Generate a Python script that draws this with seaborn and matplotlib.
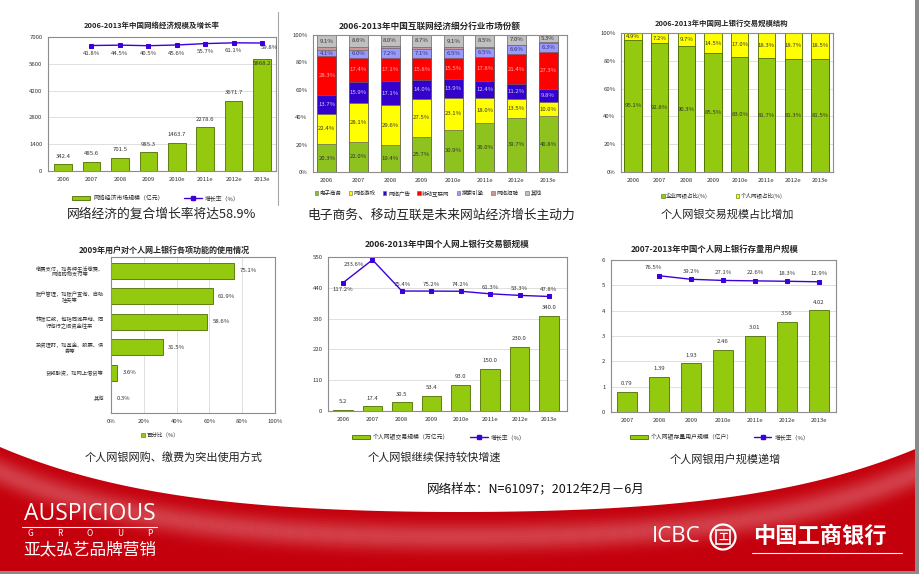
import numpy as np
import matplotlib.pyplot as plt
from matplotlib.patches import Patch, Circle, Rectangle
from matplotlib.lines import Line2D
import seaborn as sns

# ---- data ----
years = ["2006", "2007", "2008", "2009", "2010e", "2011e", "2012e", "2013e"]

econ_scale = [342.4, 485.6, 701.5, 985.3, 1463.7, 2278.6, 3671.7, 5868.2]
econ_growth = [41.8, 44.5, 40.5, 45.6, 55.7, 61.1, 59.8]  # 2007 - 2013e

seg_names = ["电子商务", "网络游戏", "网络广告", "移动互联网", "搜索引擎", "网络招聘", "其他"]
seg_ecommerce = [20.3, 22.0, 19.4, 25.7, 30.9, 36.0, 39.7, 40.8]
seg_game = [22.4, 28.1, 29.6, 27.5, 23.1, 18.0, 13.5, 10.0]
seg_ads = [13.7, 15.9, 17.1, 14.0, 13.9, 12.4, 11.2, 9.8]
seg_mobile = [28.3, 17.4, 17.1, 15.8, 15.5, 17.8, 21.4, 27.3]
seg_search = [4.1, 6.0, 7.2, 7.1, 6.5, 6.5, 6.6, 6.3]
seg_recruit = [2.1, 2.0, 1.6, 1.2, 1.0, 0.8, 0.6, 0.5]
seg_other = [9.1, 8.6, 8.0, 8.7, 9.1, 8.5, 7.0, 5.3]

bank_names = ["企业网银占比(%)", "个人网银占比(%)"]
bank_corp = [95.1, 92.8, 90.3, 85.5, 83.0, 81.7, 81.3, 81.5]
bank_personal = [4.9, 7.2, 9.7, 14.5, 17.0, 18.3, 18.7, 18.5]

func_labels = ["缴费支付，如各种生活缴费、\n网络购物支付等",
               "账户管理，如账户查询、自助\n挂失等",
               "转账汇款，包括同城异地、同\n行他行之间资金往来",
               "投资理财，如基金、股票、债\n券等",
               "贷款融资，如网上借贷等",
               "其他"]
func_share = [75.1, 61.9, 58.6, 31.5, 3.6, 0.3]

trade_scale = [5.2, 17.4, 30.5, 53.4, 93.0, 150.0, 230.0, 340.0]
trade_growth = [117.2, 233.6, 75.4, 75.2, 74.2, 61.3, 53.3, 47.8]

user_years = ["2007", "2008", "2009", "2010e", "2011e", "2012e", "2013e"]
user_scale = [0.79, 1.39, 1.93, 2.46, 3.01, 3.56, 4.02]
user_growth = [76.5, 39.2, 27.1, 22.6, 18.3, 12.9]  # 2008 - 2013e

GREEN = "#93C90E"
EDGE = "#4E6E00"
PURPLE = "#3D00DA"

sns.set_theme(style="white")
plt.rcParams["font.family"] = ["Noto Sans CJK SC", "DejaVu Sans"]
plt.rcParams["axes.unicode_minus"] = False

W, H = 920, 574
fig = plt.figure(figsize=(9.2, 5.74), dpi=100)
fig.patch.set_facecolor("white")


def rect(x0, y0, x1, y1):
    return [x0 / W, 1 - y1 / H, (x1 - x0) / W, (y1 - y0) / H]


def ftext(x, y, s, **kw):
    kw.setdefault("ha", "center")
    kw.setdefault("va", "center")
    fig.text(x / W, 1 - y / H, s, **kw)


def style_box(ax, grid="y"):
    for s in ax.spines.values():
        s.set_visible(True)
        s.set_color("#8C8C8C")
        s.set_linewidth(0.8)
    ax.tick_params(length=0, labelsize=4.3, colors="#333333", pad=4)
    ax.set_xlabel("")
    ax.set_ylabel("")
    if grid:
        getattr(ax, grid + "axis").grid(True, color="#D9D9D9", lw=0.6)
    ax.set_axisbelow(True)


def hide_twin(ax2):
    ax2.set_yticks([])
    ax2.set_ylabel("")
    for s in ax2.spines.values():
        s.set_visible(False)


# ---- background (red footer swoosh) ----
bg = fig.add_axes([0, 0, 1, 1], zorder=-5)
bg.set_xlim(0, W)
bg.set_ylim(H, 0)
bg.axis("off")
xs = np.linspace(0, W, 400)
t = (xs - 460) / 460
curve = 512 - 32 * t ** 2 - 33 * t ** 4
bg.fill_between(xs, curve, H, color="#C4000C", lw=0)
for d in range(0, 70, 2):
    a = 0.25 * np.exp(-((d - 24) / 14.0) ** 2)
    bg.fill_between(xs, curve + d, curve + d + 2, color="white", alpha=a, lw=0)
bg.add_patch(Rectangle((915, 0), 5, H, color="#8A8A8A", lw=0))
bg.add_patch(Rectangle((0, 571), W, 3, color="#8A8A8A", lw=0))
bg.plot([278, 278], [12, 205], color="#A6A6A6", lw=0.8)

# ---- chart 1: 网络经济规模及增长率 ----
ax = fig.add_axes(rect(48, 37, 276, 171))
sns.barplot(x=years, y=econ_scale, color=GREEN, saturation=1, width=0.62,
            edgecolor=EDGE, linewidth=0.6, ax=ax)
ax.set_ylim(0, 7000)
ax.set_yticks(np.arange(0, 7001, 1400))
ax.set_xlim(-0.53, 7.49)
style_box(ax)
for i, v in enumerate(econ_scale):
    if i == len(econ_scale) - 1:
        off, va = (0, -1.5), "top"
    else:
        off, va = (0, 4), "bottom"
    ax.annotate(f"{v}", (i, v), xytext=off, textcoords="offset points",
                ha="center", va=va, fontsize=4.3, color="#333333")
ax2 = ax.twinx()
gx = np.arange(1, len(years))
sns.lineplot(x=gx, y=econ_growth, color=PURPLE, marker="s", markersize=3.2,
             markeredgecolor=PURPLE, lw=1, legend=False, ax=ax2)
ax2.set_ylim(-860, 103)
ax2.set_xlim(-0.53, 7.49)
hide_twin(ax2)
for x, v in zip(gx, econ_growth):
    if x == gx[-1]:
        off = (5, -1.5)
    else:
        off = (0, -4)
    ax2.annotate(f"{v}%", (x, v), xytext=off, textcoords="offset points",
                 ha="center", va="top", fontsize=4.3, color="#333333")
ftext(152, 25, "2006-2013年中国网络经济规模及增长率", fontsize=5.4, fontweight="bold")
fig.legend(handles=[Patch(facecolor=GREEN, edgecolor=EDGE, lw=0.6),
                    Line2D([0], [0], color=PURPLE, marker="s", markersize=3, lw=1)],
           labels=["网络经济市场规模（亿元）", "增长率（%）"], loc="center",
           bbox_to_anchor=(156 / W, 1 - 198 / H), ncol=2, frameon=False, fontsize=4.2,
           handlelength=3, handleheight=0.8, columnspacing=3.5, handletextpad=0.6)
ftext(162, 214, "网络经济的复合增长率将达58.9%", fontsize=9.2, color="#222222")

# ---- chart 2: 细分行业市场份额 ----
ax = fig.add_axes(rect(313, 35, 567, 172))
seg_series = [seg_ecommerce, seg_game, seg_ads, seg_mobile, seg_search, seg_recruit, seg_other]
seg_colors = ["#8DC21F", "#FFFF00", "#3300CC", "#FF0000", "#9999FF", "#CC9999", "#C0C0C0"]
seg_text = ["#333333", "#333333", "#D0D0FF", "#FFB0B0", "#333366", "#333333", "#333333"]
cum = np.cumsum(np.array(seg_series), axis=0)
for k in range(len(seg_series) - 1, -1, -1):
    sns.barplot(x=years, y=cum[k], color=seg_colors[k], saturation=1, width=0.6,
                edgecolor="#666666", linewidth=0.5, ax=ax)
ax.set_ylim(0, 100)
ax.set_yticks(np.arange(0, 101, 20))
ax.set_yticklabels([f"{v}%" for v in range(0, 101, 20)])
ax.set_xlim(-0.44, 7.6)
style_box(ax, grid=None)
for k, ser in enumerate(seg_series):
    if k == 5:
        continue
    for i, v in enumerate(ser):
        ax.text(i, cum[k][i] - v / 2, f"{v:.1f}%", ha="center", va="center",
                fontsize=4.3, color=seg_text[k])
ftext(430, 26, "2006-2013年中国互联网经济细分行业市场份额", fontsize=6.2, fontweight="bold")
fig.legend(handles=[Patch(facecolor=c, edgecolor="#666666", lw=0.4) for c in seg_colors],
           labels=seg_names, loc="center", bbox_to_anchor=(428 / W, 1 - 193 / H),
           ncol=7, frameon=False, fontsize=4.0, handlelength=0.6, handleheight=0.6,
           columnspacing=1.3, handletextpad=0.3)
ftext(441, 215, "电子商务、移动互联是未来网站经济增长主动力", fontsize=9.2, color="#222222")

# ---- chart 3: 网上银行交易规模结构 ----
ax = fig.add_axes(rect(621, 33, 833, 172))
sns.barplot(x=years, y=np.add(bank_corp, bank_personal), color="#FFFF00", saturation=1,
            width=0.65, edgecolor=EDGE, linewidth=0.6, ax=ax)
sns.barplot(x=years, y=bank_corp, color=GREEN, saturation=1, width=0.65,
            edgecolor=EDGE, linewidth=0.6, ax=ax)
ax.set_ylim(0, 100)
ax.set_yticks(np.arange(0, 101, 20))
ax.set_yticklabels([f"{v}%" for v in range(0, 101, 20)])
ax.set_xlim(-0.45, 7.49)
style_box(ax)
for i, (c, p) in enumerate(zip(bank_corp, bank_personal)):
    ax.text(i, c / 2, f"{c}%", ha="center", va="center", fontsize=4.3, color="#333333")
    ax.text(i, c + p / 2, f"{p}%", ha="center", va="center", fontsize=4.3, color="#333333")
ftext(722, 23, "2006-2013年中国网上银行交易规模结构", fontsize=5.3, fontweight="bold")
fig.legend(handles=[Patch(facecolor=GREEN, edgecolor=EDGE, lw=0.4),
                    Patch(facecolor="#FFFF00", edgecolor=EDGE, lw=0.4)],
           labels=bank_names, loc="center", bbox_to_anchor=(722 / W, 1 - 196 / H),
           ncol=2, frameon=False, fontsize=4.0, handlelength=0.6, handleheight=0.6,
           columnspacing=5, handletextpad=0.3)
ftext(727, 214, "个人网银交易规模占比增加", fontsize=8, color="#222222")

# ---- chart 4: 个人网银功能使用 ----
ax = fig.add_axes(rect(111, 257, 275, 413))
sns.barplot(x=func_share, y=func_labels, orient="h", color=GREEN, saturation=1,
            width=0.63, edgecolor=EDGE, linewidth=0.6, ax=ax)
ax.set_xlim(0, 100)
ax.set_xticks(np.arange(0, 101, 20))
ax.set_xticklabels([f"{v}%" for v in range(0, 101, 20)])
ax.set_ylim(5.59, -0.55)
style_box(ax, grid="x")
ax.tick_params(axis="y", labelsize=3.8, pad=5)
for lab in ax.get_yticklabels():
    lab.set_multialignment("center")
for i, v in enumerate(func_share):
    ax.annotate(f"{v}%", (v, i), xytext=(4, 0), textcoords="offset points",
                ha="left", va="center", fontsize=4.3, color="#333333")
ftext(164, 250, "2009年用户对个人网上银行各项功能的使用情况", fontsize=5.8, fontweight="bold")
fig.legend(handles=[Patch(facecolor=GREEN, edgecolor=EDGE, lw=0.4)], labels=["百分比（%）"],
           loc="center", bbox_to_anchor=(160 / W, 1 - 435 / H), frameon=False, fontsize=4.0,
           handlelength=0.6, handleheight=0.6, handletextpad=0.3)
ftext(174, 457, "个人网银网购、缴费为突出使用方式", fontsize=8, color="#222222")

# ---- chart 5: 个人网上银行交易额规模 ----
ax = fig.add_axes(rect(328, 257, 567, 411))
sns.barplot(x=years, y=trade_scale, color=GREEN, saturation=1, width=0.66,
            edgecolor=EDGE, linewidth=0.6, ax=ax)
ax.set_ylim(0, 550)
ax.set_yticks(np.arange(0, 551, 110))
ax.set_xlim(-0.51, 7.61)
style_box(ax)
for i, v in enumerate(trade_scale):
    ax.annotate(f"{v:.1f}", (i, v), xytext=(0, 4), textcoords="offset points",
                ha="center", va="bottom", fontsize=4.3, color="#333333")
ax2 = ax.twinx()
tx = np.arange(len(years))
sns.lineplot(x=tx, y=trade_growth, color=PURPLE, marker="s", markersize=3.2,
             markeredgecolor=PURPLE, lw=1, legend=False, ax=ax2)
ax2.set_ylim(-533, 248)
ax2.set_xlim(-0.51, 7.61)
hide_twin(ax2)
for x, v in zip(tx, trade_growth):
    if x == 0:
        off, va = (0, -3), "top"
    elif x == 1:
        off, va = (-13, -3), "center"
    else:
        off, va = (0, 3), "bottom"
    ax2.annotate(f"{v}%", (x, v), xytext=off, textcoords="offset points",
                 ha="center", va=va, fontsize=4.3, color="#333333")
ftext(447, 244, "2006-2013年中国个人网上银行交易额规模", fontsize=6.2, fontweight="bold")
fig.legend(handles=[Patch(facecolor=GREEN, edgecolor=EDGE, lw=0.6),
                    Line2D([0], [0], color=PURPLE, marker="s", markersize=3, lw=1)],
           labels=["个人网银交易规模（万亿元）", "增长率（%）"], loc="center",
           bbox_to_anchor=(439 / W, 1 - 437 / H), ncol=2, frameon=False, fontsize=4.2,
           handlelength=3, handleheight=0.8, columnspacing=3.5, handletextpad=0.6)
ftext(434, 458, "个人网银继续保持较快增速", fontsize=8, color="#222222")

# ---- chart 6: 个人网上银行存量用户规模 ----
ax = fig.add_axes(rect(611, 260, 836, 412))
sns.barplot(x=user_years, y=user_scale, color=GREEN, saturation=1, width=0.62,
            edgecolor=EDGE, linewidth=0.6, ax=ax)
ax.set_ylim(0, 6)
ax.set_yticks(np.arange(0, 7, 1))
ax.set_xlim(-0.5, 6.53)
style_box(ax)
for i, v in enumerate(user_scale):
    ax.annotate(f"{v:.2f}", (i, v), xytext=(0, 4), textcoords="offset points",
                ha="center", va="bottom", fontsize=4.3, color="#333333")
ax2 = ax.twinx()
ux = np.arange(1, len(user_years))
sns.lineplot(x=ux, y=user_growth, color=PURPLE, marker="s", markersize=3.2,
             markeredgecolor=PURPLE, lw=1, legend=False, ax=ax2)
ax2.set_ylim(-1350, 241)
ax2.set_xlim(-0.5, 6.53)
hide_twin(ax2)
for x, v in zip(ux, user_growth):
    dx = -4 if x == ux[0] else 0
    ax2.annotate(f"{v}%", (x, v), xytext=(dx, 4), textcoords="offset points",
                 ha="center", va="bottom", fontsize=4.3, color="#333333")
ftext(715, 249, "2007-2013年中国个人网上银行存量用户规模", fontsize=6.0, fontweight="bold")
fig.legend(handles=[Patch(facecolor=GREEN, edgecolor=EDGE, lw=0.6),
                    Line2D([0], [0], color=PURPLE, marker="s", markersize=3, lw=1)],
           labels=["个人网银存量用户规模（亿户）", "增长率（%）"], loc="center",
           bbox_to_anchor=(720 / W, 1 - 437 / H), ncol=2, frameon=False, fontsize=4.2,
           handlelength=3, handleheight=0.8, columnspacing=3.5, handletextpad=0.6)
ftext(725, 459, "个人网银用户规模递增", fontsize=8, color="#222222")

# ---- footer ----
ftext(536, 489, "网络样本：N=61097；2012年2月－6月", fontsize=9, color="#111111")

ftext(90, 514, "AUSPICIOUS", fontsize=16.5, color="white", family="Open Sans")
bg.plot([22, 157], [527, 527], color="white", lw=0.8)
for lx, ch in zip(np.linspace(30, 150, 5), "GROUP"):
    ftext(lx, 534, ch, fontsize=6, color="white")
ftext(90, 550, "亚太弘艺品牌营销", fontsize=12, color="white")

ftext(676, 537, "ICBC", fontsize=16, color="white", family="Open Sans")
bg.add_patch(Circle((723, 537), 12.5, fill=False, edgecolor="white", lw=1.6))
bg.add_patch(Rectangle((716, 530), 14, 14, fill=False, edgecolor="white", lw=1.2))
ftext(723, 537, "工", fontsize=7, color="white", fontweight="bold")
ftext(820, 536, "中国工商银行", fontsize=16, color="white", fontweight="bold")
bg.plot([752, 902], [553, 553], color="white", lw=0.8)

fig.savefig("out.png", dpi=100)
